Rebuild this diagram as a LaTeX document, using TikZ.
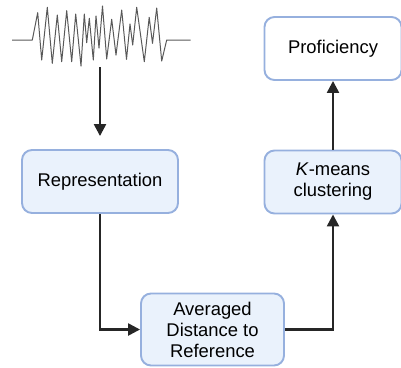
\documentclass[tikz,border=0pt]{standalone}
\usepackage{fontspec}
\setmainfont{Liberation Sans}
\usetikzlibrary{arrows.meta}
\definecolor{boxline}{RGB}{150,176,222}
\definecolor{boxfill}{RGB}{234,242,252}

\begin{document}
\begin{tikzpicture}[x=1pt, y=-1pt,
  every node/.style = {shape=rectangle, rounded corners=10pt,
    draw=boxline, line width=1.9pt, align=center,
    fill=boxfill, inner sep=0pt,
    font=\fontsize{18.4}{21}\selectfont},
  flow/.style = {draw=black!85, line width=2.4pt,
    -{Triangle[length=12pt,width=12pt]}},
  wave/.style = {draw=black!65, line width=1pt, line join=round}]
  \useasboundingbox (0,0) rectangle (401,367);
  % signal
  \draw[wave] (12,40) -- (32.3,40) -- (37.7,12.7) -- (41.7,60) -- (47.3,7.3)
    -- (52.3,63.3) -- (57.3,15) -- (61.7,61.7) -- (66.7,10.7) -- (71.7,61.7)
    -- (75.7,14) -- (81,66) -- (84.3,14) -- (86.7,42.7) -- (89.3,18.3)
    -- (93.3,60) -- (96,16) -- (99,48) -- (102.5,6) -- (106.7,59)
    -- (111.7,19.3) -- (116,55) -- (121.7,10) -- (126.5,59.3) -- (130,24)
    -- (132.7,45) -- (136.7,7.3) -- (144.3,61.7) -- (149.2,17.3)
    -- (152.5,43.3) -- (156.7,8) -- (161.7,61) -- (166.7,40) -- (190.7,40);
  \coordinate (sig) at (100,67);
  % boxes
  \node (rep) [minimum width=156pt, minimum height=63pt] at (100,181.5)
    {Representation};
  \node (avg) [minimum width=143pt, minimum height=72pt] at (212.5,329.5)
    {Averaged\\Distance to\\Reference};
  \node (km) [minimum width=137pt, minimum height=63pt] at (333,182)
    {\textit{K}-means\\clustering};
  \node (prof) [minimum width=137pt, minimum height=63pt, fill=white]
    at (333,48.5) {Proficiency};
  % connectors
  \draw[flow, shorten >=13pt] (sig) -- (rep.north);
  \draw[flow] (rep.south) |- (avg.west);
  \draw[flow] (avg.east) -| (km.south);
  \draw[flow] (km.north) -- (prof.south);
\end{tikzpicture}
\end{document}
